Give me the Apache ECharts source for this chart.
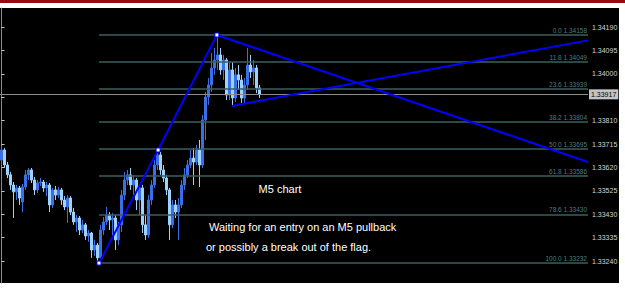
<!DOCTYPE html>
<html><head><meta charset="utf-8">
<script src="https://cdn.jsdelivr.net/npm/echarts@6/dist/echarts.min.js"></script>
<style>
html,body{margin:0;padding:0;background:#fff;width:625px;height:298px;overflow:hidden;}
#topbar{position:absolute;left:0;top:0;width:625px;height:3px;background:#9a0a0a;}
#pane{position:absolute;left:0;top:8px;width:619px;height:275px;background:#000;}
#chart{position:absolute;left:0;top:0;width:625px;height:298px;}
</style></head><body>
<div id="topbar"></div><div id="pane"></div><div id="chart"></div>
<script>
// candles: [open, close, low, high]
const candles = [
[1.33650,1.33691,1.33630,1.33703],[1.33691,1.33630,1.33618,1.33699],[1.33630,1.33590,1.33577,1.33642],[1.33590,1.33549,1.33529,1.33602],
[1.33549,1.33521,1.33415,1.33561],[1.33521,1.33537,1.33488,1.33549],[1.33537,1.33496,1.33468,1.33545],[1.33480,1.33541,1.33439,1.33553],
[1.33541,1.33590,1.33529,1.33610],[1.33590,1.33610,1.33569,1.33618],[1.33610,1.33569,1.33557,1.33618],[1.33569,1.33529,1.33508,1.33581],
[1.33529,1.33557,1.33516,1.33569],[1.33557,1.33561,1.33545,1.33577],[1.33561,1.33537,1.33521,1.33569],[1.33537,1.33549,1.33504,1.33561],
[1.33549,1.33468,1.33439,1.33557],[1.33468,1.33529,1.33456,1.33537],[1.33529,1.33508,1.33488,1.33545],[1.33508,1.33529,1.33496,1.33541],
[1.33529,1.33488,1.33468,1.33537],[1.33488,1.33460,1.33447,1.33504],[1.33460,1.33496,1.33395,1.33508],[1.33496,1.33439,1.33427,1.33504],
[1.33439,1.33399,1.33387,1.33456],[1.33399,1.33415,1.33358,1.33427],[1.33415,1.33366,1.33346,1.33423],[1.33366,1.33387,1.33354,1.33407],
[1.33387,1.33342,1.33326,1.33395],[1.33342,1.33354,1.33318,1.33366],[1.33354,1.33285,1.33253,1.33358],[1.33285,1.33305,1.33261,1.33326],
[1.33305,1.33253,1.33232,1.33313],[1.33253,1.33366,1.33244,1.33387],[1.33366,1.33399,1.33346,1.33419],[1.33399,1.33427,1.33387,1.33460],
[1.33427,1.33407,1.33366,1.33439],[1.33407,1.33415,1.33342,1.33435],[1.33415,1.33326,1.33285,1.33427],[1.33326,1.33387,1.33305,1.33399],
[1.33387,1.33508,1.33358,1.33529],[1.33508,1.33569,1.33488,1.33602],[1.33569,1.33590,1.33549,1.33610],[1.33590,1.33549,1.33529,1.33618],
[1.33549,1.33569,1.33508,1.33590],[1.33569,1.33488,1.33447,1.33577],[1.33488,1.33537,1.33427,1.33549],[1.33537,1.33387,1.33354,1.33549],
[1.33387,1.33346,1.33326,1.33427],[1.33346,1.33488,1.33334,1.33508],[1.33488,1.33549,1.33468,1.33569],[1.33549,1.33630,1.33537,1.33650],
[1.33630,1.33671,1.33610,1.33691],[1.33671,1.33610,1.33590,1.33683],[1.33610,1.33577,1.33561,1.33630],[1.33577,1.33529,1.33508,1.33590],
[1.33529,1.33387,1.33326,1.33537],[1.33387,1.33468,1.33374,1.33488],[1.33468,1.33439,1.33415,1.33488],[1.33439,1.33468,1.33326,1.33496],
[1.33468,1.33549,1.33456,1.33569],[1.33549,1.33590,1.33529,1.33618],[1.33590,1.33630,1.33577,1.33650],[1.33630,1.33658,1.33618,1.33691],
[1.33658,1.33642,1.33549,1.33699],[1.33642,1.33691,1.33630,1.33711],[1.33691,1.33630,1.33541,1.33732],[1.33630,1.33813,1.33618,1.33833],
[1.33813,1.33906,1.33732,1.33927],[1.33906,1.33955,1.33874,1.33983],[1.33955,1.34024,1.33927,1.34085],[1.34024,1.34056,1.33996,1.34105],
[1.34056,1.34077,1.34016,1.34158],[1.34077,1.34016,1.33996,1.34105],[1.34016,1.34056,1.33975,1.34077],[1.34056,1.33914,1.33894,1.34064],
[1.33914,1.34016,1.33894,1.34048],[1.34016,1.33902,1.33866,1.34048],[1.33902,1.33996,1.33886,1.34024],[1.33996,1.33975,1.33935,1.34036],
[1.33975,1.33902,1.33882,1.33996],[1.33902,1.33955,1.33882,1.33983],[1.33955,1.34036,1.33935,1.34105],[1.34036,1.34008,1.33983,1.34077],
[1.34008,1.34024,1.33955,1.34056],[1.34024,1.33943,1.33922,1.34036],[1.33943,1.33918,1.33902,1.33955]
];
const fibLevels = ['0.0','11.8','23.6','38.2','50.0','61.8','78.6','100.0'];
const fibPrices = [1.34158,1.34049,1.33939,1.33804,1.33695,1.33586,1.33430,1.33232];
const priceTicks = [1.33240,1.33335,1.33430,1.33525,1.33620,1.33715,1.33810,1.33905,1.34000,1.34095,1.34190];
// 1.33905 label sits under the last-price box in the reference, so it is not labelled
const priceLabels = [1.33240,1.33335,1.33430,1.33525,1.33620,1.33715,1.33810,1.34000,1.34095,1.34190];
const lastPrice = 1.33917;
const legUp = [[32.5,1.33232],[52.2,1.33691],[71.8,1.34158]];
const flagTop = [[71.8,1.34158],[195.5,1.33642]];
const flagBottom = [[76.8,1.33870],[195.5,1.34136]];
const fibStart = 32.5, fibEnd = 195.5;
const slotCount = 196;
const categories = Array.from({length: slotCount}, (_, i) => String(i));
const notes = ['M5 chart','Waiting for an entry on an M5 pullback','or possibly a break out of the flag.'];

const chart = echarts.init(document.getElementById('chart'), null, {renderer:'svg', width:625, height:298});
const FONT = '"Liberation Sans", Arial, sans-serif';
const fibColor = '#3b5f5f';
chart.setOption({
  animation:false,
  backgroundColor:'transparent',
  grid:{left:0, right:37, top:8, bottom:15},
  xAxis:[
    {type:'category', data:categories, boundaryGap:true, show:false},
    {type:'value', min:-0.5, max:slotCount-0.5, show:false}
  ],
  yAxis:{
    type:'value', position:'right', min:1.331510, max:1.342675, scale:true,
    splitLine:{show:false},
    axisLine:{show:true, lineStyle:{color:'#8a8a8a', width:1}},
    axisTick:{show:true, length:3, customValues:priceTicks, lineStyle:{color:'#c8c8c8'}},
    axisLabel:{customValues:priceLabels, color:'#d4d4d4', fontSize:7, fontFamily:FONT, margin:4,
      formatter:v=>v.toFixed(5)}
  },
  graphic:[
    {type:'text', x:280, y:189, style:{text:notes[0], fill:'#fff', font:'11px '+FONT, textAlign:'center', textVerticalAlign:'middle'}},
    {type:'text', x:209, y:227, style:{text:notes[1], fill:'#fff', font:'11px '+FONT, textAlign:'left', textVerticalAlign:'middle'}},
    {type:'text', x:206, y:247, style:{text:notes[2], fill:'#fff', font:'11px '+FONT, textAlign:'left', textVerticalAlign:'middle'}}
  ],
  series:[
    {type:'line', xAxisIndex:1, data:[], silent:true,
      markLine:{silent:true, symbol:['none','none'], animation:false, precision:5,
        lineStyle:{color:fibColor, width:1.5, type:'solid'},
        label:{show:true, position:'insideEndTop', distance:1, color:'#4f7d7d', fontSize:6.5, fontFamily:FONT},
        data: fibPrices.map((p,i)=>[
          {coord:[fibStart,p], label:{formatter: fibLevels[i]+' '+p.toFixed(5)}},
          {coord:[fibEnd,p]}
        ])
      }
    },
    {type:'line', xAxisIndex:1, data:[], silent:true, z:6,
      markLine:{silent:true, symbol:['none','none'], animation:false, precision:5,
        lineStyle:{color:'#8c8c8c', width:1, type:'solid'},
        label:{show:true, position:'end', distance:1, color:'#000', backgroundColor:'#c4c4c4',
          fontSize:7, fontFamily:FONT, padding:[2,2,1,2]},
        data:[[
          {coord:[-0.5,lastPrice], label:{formatter:lastPrice.toFixed(5)}},
          {coord:[fibEnd,lastPrice]}
        ]]
      }
    },
    {type:'candlestick', xAxisIndex:0, data:candles, barWidth:2,
      itemStyle:{color:'#3b6fe8', color0:'#9fd3ff', borderColor:'#3b6fe8', borderColor0:'#9fd3ff', borderWidth:1}},
    {type:'line', xAxisIndex:1, data:legUp, symbol:'rect', symbolSize:4, showSymbol:true,
      lineStyle:{color:'#0000ff', width:2}, itemStyle:{color:'#ffffff', borderColor:'#0000ff', borderWidth:1}, z:5},
    {type:'line', xAxisIndex:1, data:flagTop, symbol:'none', lineStyle:{color:'#0000ff', width:2}, z:5},
    {type:'line', xAxisIndex:1, data:flagBottom, symbol:'none', lineStyle:{color:'#0000ff', width:2}, z:5}
  ]
});
</script></body></html>
